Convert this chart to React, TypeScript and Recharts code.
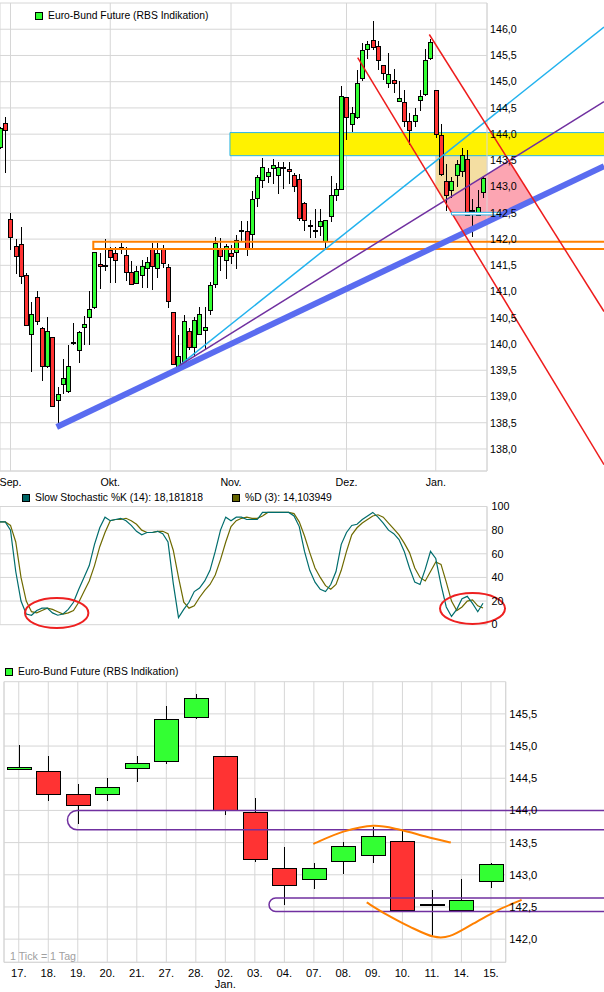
import React from 'react';
import {
  ComposedChart,
  Bar,
  Line,
  XAxis,
  YAxis,
  CartesianGrid,
  ReferenceArea,
  ReferenceLine,
  ReferenceDot,
} from 'recharts';

const FONT = '"Liberation Sans", Arial, Helvetica, sans-serif';
const FS = 10.7;
const LEG_FS = 10.35;
const GRID = '#d6d6d6';
const GREEN = '#33ff33';
const RED = '#ff3333';

// ---------------- data: daily candles (index 0 = 30 Aug ... 92 = 15 Jan) ----------------
const candleOpen = [
  143.76, 144.22, 142.39, 141.87, 141.9, 141.31, 140.19, 140.9, 140.3, 139.58,
  140.13, 138.93, 139.24, 139.1, 140.02, 139.89, 140.33, 140.51, 140.71, 141.52,
  141.51, 141.79, 141.73, 141.84, 141.69, 141.37, 141.16, 141.31, 141.44, 141.83,
  141.44, 141.82, 141.46, 140.62, 139.57, 139.62, 140.25, 139.95, 140.2, 140.27,
  140.65, 141.14, 141.83, 141.61, 141.73, 141.75, 142.18, 142.15, 142.09, 142.79,
  143.12, 143.21, 143.35, 143.23, 143.38, 143.34, 143.22, 143.14, 142.68, 142.26,
  142.17, 142.25, 141.97, 142.44, 142.85, 142.96, 144.7, 144.2, 144.33, 145.08,
  145.63, 145.79, 145.68, 145.31, 144.97, 145.04, 144.64, 144.62, 144.26, 144.25,
  144.66, 144.77, 145.45, 144.85, 143.98, 143.11, 142.94, 143.22, 143.3, 143.53,
  142.55, 142.45, 142.9,
];
const candleHigh = [
  144.14, 144.33, 142.49, 142.01, 142.23, 141.35, 140.81, 141.01, 140.33, 140.52,
  140.13, 139.19, 139.71, 139.98, 140.41, 140.25, 140.53, 141.02, 141.76, 141.73,
  142.0, 141.85, 141.85, 141.92, 141.84, 141.59, 141.49, 141.6, 141.66, 141.93,
  141.93, 141.89, 141.52, 140.62, 140.18, 140.55, 140.3, 140.52, 140.71, 140.7,
  141.19, 142.04, 142.03, 141.9, 141.89, 142.08, 142.35, 142.34, 142.92, 143.23,
  143.54, 143.35, 143.52, 143.47, 143.47, 143.47, 143.26, 143.25, 142.71, 142.36,
  142.57, 142.57, 142.37, 143.21, 143.07, 144.91, 144.71, 144.52, 145.22, 145.74,
  145.78, 146.15, 145.78, 145.31, 145.54, 145.25, 145.02, 144.84, 144.41, 144.5,
  144.85, 145.63, 145.81, 144.85, 144.19, 143.43, 143.19, 143.51, 143.74, 143.69,
  142.77, 142.94, 143.19,
];
const candleLow = [
  143.73, 143.28, 141.82, 141.35, 141.16, 140.36, 139.49, 140.39, 139.31, 139.57,
  138.82, 138.49, 139.06, 139.09, 140.0, 139.66, 140.01, 140.01, 140.68, 141.06,
  141.42, 141.19, 141.19, 141.73, 141.22, 141.14, 141.16, 141.09, 141.08, 141.04,
  141.28, 141.47, 140.7, 139.62, 139.57, 139.6, 139.9, 139.77, 140.2, 139.92,
  140.58, 141.09, 141.42, 141.25, 141.54, 141.44, 141.98, 141.7, 141.85, 142.63,
  143.0, 143.09, 143.07, 142.88, 142.98, 143.06, 142.92, 142.37, 142.17, 142.04,
  142.04, 142.08, 141.85, 142.35, 142.74, 142.95, 143.9, 144.06, 144.3, 145.03,
  145.46, 145.63, 145.25, 145.06, 144.89, 144.81, 144.64, 144.16, 143.81, 144.16,
  144.46, 144.74, 145.44, 143.95, 143.22, 142.55, 142.8, 143.02, 143.2, 142.45,
  142.05, 142.45, 142.81,
];
const candleClose = [
  144.11, 144.08, 142.04, 141.68, 141.3, 140.36, 140.58, 140.44, 139.58, 140.25,
  138.82, 139.04, 139.35, 139.58, 140.04, 140.22, 140.38, 140.66, 141.75, 141.49,
  141.5, 141.65, 141.61, 141.83, 141.37, 141.14, 141.4, 141.49, 141.57, 141.49,
  141.73, 141.54, 140.82, 139.62, 139.78, 140.44, 139.94, 140.46, 140.58, 140.32,
  141.12, 141.92, 141.68, 141.87, 141.68, 141.99, 142.15, 141.82, 142.77, 143.19,
  143.37, 143.28, 143.41, 143.38, 143.35, 143.3, 143.01, 142.41, 142.36, 142.25,
  142.18, 142.35, 142.36, 142.85, 142.96, 144.73, 144.32, 144.41, 144.98, 145.6,
  145.71, 145.66, 145.41, 145.17, 145.14, 144.98, 144.68, 144.25, 144.08, 144.37,
  144.73, 145.42, 145.75, 144.01, 143.24, 142.84, 143.1, 143.44, 143.6, 142.45,
  142.55, 142.61, 143.16,
];
const stochK = [
  87, 87, 80, 45, 20, 9, 8, 12, 14, 14, 10, 8, 9, 13, 19, 30, 40, 50, 68, 82,
  91, 88, 89, 90, 88, 84, 79, 76, 78, 78, 79, 77, 70, 35, 6, 13, 19, 28, 31, 37,
  46, 62, 80, 91, 88, 91, 91, 89, 89, 89, 95, 95, 95, 95, 95, 95, 92, 83, 62, 46,
  36, 30, 28, 34, 45, 68, 78, 84, 85, 89, 92, 95, 91, 86, 80, 77, 72, 62, 48, 36,
  34, 47, 62, 56, 34, 15, 7, 13, 22, 24, 18, 11, 18.181818,
];
const stochD = [
  87, 87, 84, 70, 40, 20, 11, 10, 12, 14, 13, 11, 9, 10, 12, 19, 28, 37, 50, 66,
  78, 88, 89, 89, 90, 88, 85, 80, 78, 78, 79, 79, 77, 63, 40, 19, 14, 16, 23, 29,
  34, 42, 55, 70, 83, 88, 90, 91, 90, 90, 92, 95, 95, 95, 95, 95, 94, 87, 75, 61,
  48, 40, 33, 30, 34, 46, 62, 76, 82, 86, 89, 92, 93, 91, 86, 81, 76, 69, 61, 48,
  40, 37, 45, 53, 51, 36, 20, 12, 15, 20, 21, 16, 14.103949,
];

const monthTicks = [2, 21, 44, 66, 83];
const monthLabels = ['Sep.', 'Okt.', 'Nov.', 'Dez.', 'Jan.'];
const mainPriceTicks = [138, 138.5, 139, 139.5, 140, 140.5, 141, 141.5, 142, 142.5, 143, 143.5, 144, 144.5, 145, 145.5, 146, 146.5];
const stochTicks = [0, 20, 40, 60, 80, 100];

const zoomStart = 76;
const zoomLabels = ['17.', '18.', '19.', '20.', '21.', '27.', '28.', '02.', '03.', '04.', '07.', '08.', '09.', '10.', '11.', '14.', '15.'];
const zoomSubLabels = ['', '', '', '', '', '', '', 'Jan.', '', '', '', '', '', '', '', '', ''];
const zoomTicks = [0, 1, 2, 3, 4, 5, 6, 7, 8, 9, 10, 11, 12, 13, 14, 15, 16];
const zoomPriceTicks = [142, 142.5, 143, 143.5, 144, 144.5, 145, 145.5, 146];

// ---------------- drawings, in data units (candle index, price) ----------------
type Pt = { x: number; y: number };
const trendBlue: Pt[] = [{ x: 10.8, y: 138.42 }, { x: 115.05, y: 143.39 }];
const trendCyan: Pt[] = [{ x: 34, y: 139.58 }, { x: 115.05, y: 146.04 }];
const trendPurple: Pt[] = [{ x: 34, y: 139.58 }, { x: 115.05, y: 144.62 }];
const channelRed1: Pt[] = [{ x: 68.13, y: 145.46 }, { x: 115.05, y: 137.7 }];
const channelRed2: Pt[] = [{ x: 81.77, y: 145.9 }, { x: 115.05, y: 140.62 }];
const yellowZone = { x1: 43.8, x2: 130, y1: 143.59, y2: 144.03 };
const orangeZone = { x1: 17.77, x2: 130, y1: 141.81, y2: 141.95 };
const cyanZone = { x1: 86.0, x2: 95.2, y1: 142.46, y2: 142.51 };
const tanBox = { left: 83, right: 92.76, top: 144.0 };

const stochCircles = [
  { x: 10.8, y: 9.9, rx: 31.7, ry: 15 },
  { x: 90, y: 13.7, rx: 32.5, ry: 15.5 },
];

const zoomBands = [
  { x1: 1.65, y1: 143.7, y2: 144.0 },
  { x1: 8.48, y1: 142.43, y2: 142.64 },
];
const arcUpper: [number, number][] = [
  [9.98, 143.48], [11.0, 143.67], [12.02, 143.76], [12.92, 143.7], [13.82, 143.59], [14.64, 143.5],
];
const arcLower: [number, number][] = [
  [11.79, 142.57], [12.47, 142.38], [13.26, 142.19], [14.05, 142.04], [14.61, 142.05],
  [15.4, 142.24], [16.19, 142.44], [17.04, 142.61],
];

// ---------------- derived tables ----------------
const mainData = candleOpen.map((o, i) => ({
  idx: i,
  open: o,
  high: candleHigh[i],
  low: candleLow[i],
  close: candleClose[i],
  range: [candleLow[i], candleHigh[i]],
  k: stochK[i],
  d: stochD[i],
}));
const zoomData = mainData.slice(zoomStart).map((r, j) => ({ ...r, idx: j }));

const lineAt = (l: Pt[], x: number) => l[0].y + ((x - l[0].x) * (l[1].y - l[0].y)) / (l[1].x - l[0].x);
const slopeOf = (l: Pt[]) => (l[1].y - l[0].y) / (l[1].x - l[0].x);
const intersect = (a: Pt[], b: Pt[]): [number, number] => {
  const ma = slopeOf(a);
  const mb = slopeOf(b);
  const x = (b[0].y - a[0].y + ma * a[0].x - mb * b[0].x) / (ma - mb);
  return [x, lineAt(a, x)];
};

const pA = intersect(trendPurple, channelRed1);
const pC = intersect(trendPurple, channelRed2);
const pD = intersect(trendBlue, channelRed2);
const pB = intersect(trendBlue, channelRed1);
const pinkPoly: [number, number][] = [pA, pC, pD, pB];
const tanPoly: [number, number][] = [
  [tanBox.left, tanBox.top],
  [tanBox.right, tanBox.top],
  [tanBox.right, lineAt(trendPurple, tanBox.right)],
  pA,
  [tanBox.left, lineAt(channelRed1, tanBox.left)],
];

// calibration segment: its two ends are placed by the library scales,
// the drawing shapes are projected with the same linear mapping
const CAL_MAIN: Pt[] = [{ x: 0, y: 138 }, { x: 90, y: 146 }];
const CAL_ZOOM: Pt[] = [{ x: 0, y: 142 }, { x: 16, y: 146 }];

const projector = (p: any, cal: Pt[]) => {
  const sx = (p.x2 - p.x1) / (cal[1].x - cal[0].x);
  const sy = (p.y2 - p.y1) / (cal[1].y - cal[0].y);
  return (x: number, y: number): [number, number] => [p.x1 + (x - cal[0].x) * sx, p.y1 + (y - cal[0].y) * sy];
};

const smoothPath = (pts: [number, number][]) => {
  let d = `M${pts[0][0]},${pts[0][1]}`;
  for (let i = 0; i < pts.length - 1; i++) {
    const p0 = pts[i - 1] || pts[i];
    const p1 = pts[i];
    const p2 = pts[i + 1];
    const p3 = pts[i + 2] || p2;
    const c1 = [p1[0] + (p2[0] - p0[0]) / 6, p1[1] + (p2[1] - p0[1]) / 6];
    const c2 = [p2[0] - (p3[0] - p1[0]) / 6, p2[1] - (p3[1] - p1[1]) / 6];
    d += ` C${c1[0]},${c1[1]} ${c2[0]},${c2[1]} ${p2[0]},${p2[1]}`;
  }
  return d;
};

const polygonShape = (props: any) => {
  const proj = projector(props, CAL_MAIN);
  const toStr = (poly: [number, number][]) => poly.map(([x, y]) => proj(x, y).join(',')).join(' ');
  return (
    <g>
      <polygon points={toStr(tanPoly)} fill="#f4dea2" stroke="none" />
      <polygon points={toStr(pinkPoly)} fill="#fca5b2" stroke="none" />
    </g>
  );
};

const arcShape = (props: any) => {
  const proj = projector(props, CAL_ZOOM);
  const up = arcUpper.map(([x, y]) => proj(x, y));
  const lo = arcLower.map(([x, y]) => proj(x, y));
  return (
    <g>
      <path d={smoothPath(up)} fill="none" stroke="#ff8000" strokeWidth={2} />
      <path d={smoothPath(lo)} fill="none" stroke="#ff8000" strokeWidth={2} />
    </g>
  );
};

const candleShape = (halfBody: number) => (props: any) => {
  const { x, y, width, height, payload } = props;
  if (x == null || !payload) return <g />;
  const { open, close, high, low } = payload;
  const px = Math.round(x + width / 2);
  const k = high > low ? height / (high - low) : 0;
  const yOf = (v: number) => y + (high - v) * k;
  const yTop = Math.round(yOf(Math.max(open, close)));
  const yBot = Math.round(yOf(Math.min(open, close)));
  const up = close >= open;
  return (
    <g>
      <line x1={px + 0.5} x2={px + 0.5} y1={Math.round(y)} y2={Math.round(y + height) + 1} stroke="#000" strokeWidth={1} />
      {yBot - yTop < 2 ? (
        <rect x={px - halfBody} y={yTop} width={2 * halfBody + 1} height={2} fill="#000" />
      ) : (
        <rect
          x={px - halfBody + 0.5}
          y={yTop + 0.5}
          width={2 * halfBody}
          height={yBot - yTop}
          fill={up ? GREEN : RED}
          stroke="#000"
          strokeWidth={1}
        />
      )}
    </g>
  );
};

const fmtMain = (v: number) => (v > 146.25 ? '' : v.toFixed(1).replace('.', ','));
const fmtZoom = (v: number) => (v > 145.75 ? '' : v.toFixed(1).replace('.', ','));
const fmtMonth = (v: number) => {
  const i = monthTicks.indexOf(v);
  return i >= 0 ? monthLabels[i] : '';
};

const ZoomTick = (props: any) => {
  const { x, y, payload } = props;
  const i = payload.value as number;
  return (
    <g>
      <text x={x} y={y + 8.4} textAnchor="middle" fontSize={FS + 0.5} fontFamily={FONT} fill="#000">
        {zoomLabels[i]}
      </text>
      {zoomSubLabels[i] ? (
        <text x={x} y={y + 19.2} textAnchor="middle" fontSize={FS + 0.5} fontFamily={FONT} fill="#000">
          {zoomSubLabels[i]}
        </text>
      ) : null}
    </g>
  );
};

const LegendItem = ({ color, text, left, top }: { color: string; text: string; left: number; top: number }) => (
  <div
    style={{
      position: 'absolute',
      left,
      top,
      display: 'flex',
      alignItems: 'center',
      fontFamily: FONT,
      fontSize: LEG_FS,
      color: '#000',
      whiteSpace: 'nowrap',
      lineHeight: '12px',
      height: 12,
    }}
  >
    <span
      style={{
        display: 'inline-block',
        width: 6,
        height: 6,
        background: color,
        border: '1px solid #000',
        marginRight: 5,
      }}
    />
    {text}
  </div>
);

const tickStyle = { fill: '#000', fontSize: FS, fontFamily: FONT };

export default function App() {
  return (
    <div style={{ position: 'absolute', left: 0, top: 0, width: 604, height: 992, background: '#fff', overflow: 'hidden' }}>
      {/* ---------- main candle chart ---------- */}
      <div style={{ position: 'absolute', left: 0, top: 0 }}>
        <ComposedChart width={604} height={490} data={mainData} margin={{ top: 3, right: 0, bottom: 0, left: 0 }}>
          <CartesianGrid stroke={GRID} strokeWidth={1} />
          <ReferenceLine segment={CAL_MAIN} ifOverflow="visible" shape={polygonShape} zIndex={50} />
          <ReferenceArea
            x1={yellowZone.x1}
            x2={yellowZone.x2}
            y1={yellowZone.y1}
            y2={yellowZone.y2}
            ifOverflow="visible"
            fill="#fff200"
            fillOpacity={1}
            stroke="#2ab5ea"
            strokeWidth={1}
            zIndex={100}
          />
          <XAxis
            dataKey="idx"
            type="number"
            domain={[0, 92.76]}
            ticks={monthTicks}
            tickFormatter={fmtMonth}
            interval={0}
            height={19}
            axisLine={{ stroke: GRID }}
            tickLine={false}
            tickSize={0}
            tickMargin={7}
            tick={tickStyle}
          />
          <YAxis
            orientation="right"
            type="number"
            domain={[137.58, 146.5]}
            ticks={mainPriceTicks}
            tickFormatter={fmtMain}
            interval={0}
            width={117}
            axisLine={{ stroke: GRID }}
            tickLine={false}
            tickSize={0}
            tickMargin={3}
            tick={tickStyle}
          />
          <Bar dataKey="range" barSize={5} isAnimationActive={false} shape={candleShape(2)} />
          <ReferenceArea
            x1={orangeZone.x1}
            x2={orangeZone.x2}
            y1={orangeZone.y1}
            y2={orangeZone.y2}
            ifOverflow="visible"
            fill="none"
            stroke="#ff8000"
            strokeWidth={2}
            zIndex={600}
          />
          <ReferenceLine segment={trendBlue} ifOverflow="visible" stroke="#5a6cf0" strokeWidth={6} zIndex={610} />
          <ReferenceLine segment={trendCyan} ifOverflow="visible" stroke="#22b2ee" strokeWidth={1.5} zIndex={620} />
          <ReferenceLine segment={trendPurple} ifOverflow="visible" stroke="#7030a0" strokeWidth={1.5} zIndex={620} />
          <ReferenceLine segment={channelRed1} ifOverflow="visible" stroke="#ee1c1c" strokeWidth={1.5} zIndex={620} />
          <ReferenceLine segment={channelRed2} ifOverflow="visible" stroke="#ee1c1c" strokeWidth={1.5} zIndex={620} />
          <ReferenceArea
            x1={cyanZone.x1}
            x2={cyanZone.x2}
            y1={cyanZone.y1}
            y2={cyanZone.y2}
            ifOverflow="visible"
            fill="#ffffff"
            fillOpacity={1}
            stroke="#2ab5ea"
            strokeWidth={1}
            zIndex={630}
          />
        </ComposedChart>
      </div>
      <LegendItem color={GREEN} text="Euro-Bund Future (RBS Indikation)" left={35} top={10} />

      {/* ---------- slow stochastic ---------- */}
      <div style={{ position: 'absolute', left: 0, top: 495 }}>
        <ComposedChart width={604} height={140} data={mainData} margin={{ top: 11.5, right: 0, bottom: 10.3, left: 0 }}>
          <CartesianGrid stroke={GRID} strokeWidth={1} />
          <XAxis
            dataKey="idx"
            type="number"
            domain={[0, 92.76]}
            ticks={monthTicks}
            interval={0}
            height={0}
            tick={false}
            axisLine={false}
            tickLine={false}
          />
          <YAxis
            orientation="right"
            type="number"
            domain={[0, 100]}
            ticks={stochTicks}
            interval={0}
            width={117}
            axisLine={{ stroke: GRID }}
            tickLine={false}
            tickSize={0}
            tickMargin={4.5}
            tick={tickStyle}
          />
          <Line dataKey="d" type="linear" stroke="#6e6a00" strokeWidth={1.2} dot={false} isAnimationActive={false} />
          <Line dataKey="k" type="linear" stroke="#006d6d" strokeWidth={1.2} dot={false} isAnimationActive={false} />
          {stochCircles.map((c, i) => (
            <ReferenceDot
              key={i}
              x={c.x}
              y={c.y}
              r={1}
              ifOverflow="visible"
              zIndex={700}
              shape={(p: any) => (
                <ellipse cx={p.cx} cy={p.cy} rx={c.rx} ry={c.ry} fill="none" stroke="#ee2020" strokeWidth={2} />
              )}
            />
          ))}
        </ComposedChart>
      </div>
      <LegendItem color="#006666" text="Slow Stochastic %K (14): 18,181818" left={22} top={492} />
      <LegendItem color="#666600" text="%D (3): 14,103949" left={232} top={492} />

      {/* ---------- zoomed candle chart ---------- */}
      <div style={{ position: 'absolute', left: 0, top: 660 }}>
        <ComposedChart width={604} height={330} data={zoomData} margin={{ top: 21.7, right: 0, bottom: 0, left: 4 }}>
          <CartesianGrid stroke={GRID} strokeWidth={1} />
          <XAxis
            dataKey="idx"
            type="number"
            domain={[-0.5, 16.5]}
            ticks={zoomTicks}
            interval={0}
            height={27.7}
            axisLine={{ stroke: GRID }}
            tickLine={false}
            tickSize={0}
            tickMargin={6}
            tick={<ZoomTick />}
          />
          <YAxis
            orientation="right"
            type="number"
            domain={[141.64, 146]}
            ticks={zoomPriceTicks}
            tickFormatter={fmtZoom}
            interval={0}
            width={98.3}
            axisLine={{ stroke: GRID }}
            tickLine={false}
            tickSize={0}
            tickMargin={3.6}
            tick={{ ...tickStyle, fontSize: FS + 0.5 }}
          />
          <ReferenceLine x={-0.5} stroke={GRID} strokeWidth={1} />
          <Bar dataKey="range" barSize={25} isAnimationActive={false} shape={candleShape(12)} />
          {zoomBands.map((b, i) => (
            <ReferenceArea
              key={i}
              x1={b.x1}
              x2={40}
              y1={b.y1}
              y2={b.y2}
              ifOverflow="visible"
              zIndex={600}
              shape={(p: any) => (
                <rect
                  x={p.x}
                  y={p.y}
                  width={p.width}
                  height={p.height}
                  rx={p.height / 2}
                  ry={p.height / 2}
                  fill="none"
                  stroke="#7030a0"
                  strokeWidth={1.5}
                />
              )}
            />
          ))}
          <ReferenceLine segment={CAL_ZOOM} ifOverflow="visible" shape={arcShape} zIndex={620} />
        </ComposedChart>
      </div>
      <LegendItem color={GREEN} text="Euro-Bund Future (RBS Indikation)" left={5} top={666} />
      <div
        style={{
          position: 'absolute',
          left: 10,
          top: 950,
          fontFamily: FONT,
          fontSize: FS,
          color: '#a0a0a0',
          whiteSpace: 'nowrap',
          lineHeight: '12px',
        }}
      >
        1 Tick = 1 Tag
      </div>
    </div>
  );
}
